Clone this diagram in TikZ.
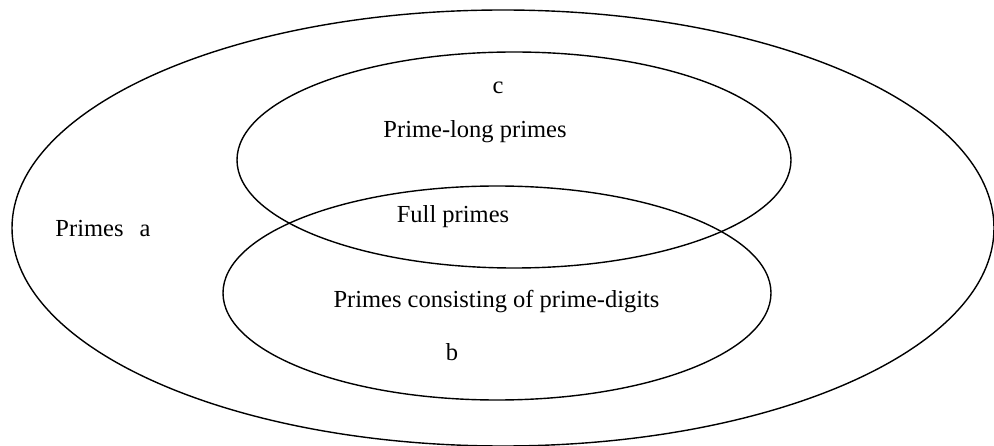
\documentclass[tikz,border=0pt]{standalone}
\usepackage{fontspec}
\setmainfont{Liberation Serif}
\begin{document}
\begin{tikzpicture}[x=1pt,y=-1pt,
  ring/.style={draw=black,line width=1.4pt},
  lbl/.style={font=\fontsize{24.5}{28}\selectfont,inner sep=0pt,anchor=base}]
\useasboundingbox (0,0) rectangle (994,446);
\draw[ring] (503,228) ellipse [x radius=491,y radius=218];
\draw[ring] (514,160) ellipse [x radius=277,y radius=108];
\draw[ring] (497,293) ellipse [x radius=274,y radius=107];
\node[lbl] (c) at (498,94) {c};
\node[lbl] (plp) at (475,138) {Prime-long primes};
\node[lbl] (fp) at (453,223) {Full primes};
\node[lbl] (pr) at (89.5,237) {Primes};
\node[lbl] (a) at (145,237) {a};
\node[lbl] (pcp) at (496.5,308) {Primes consisting of prime-digits};
\node[lbl] (b) at (452,361) {b};
\end{tikzpicture}
\end{document}
